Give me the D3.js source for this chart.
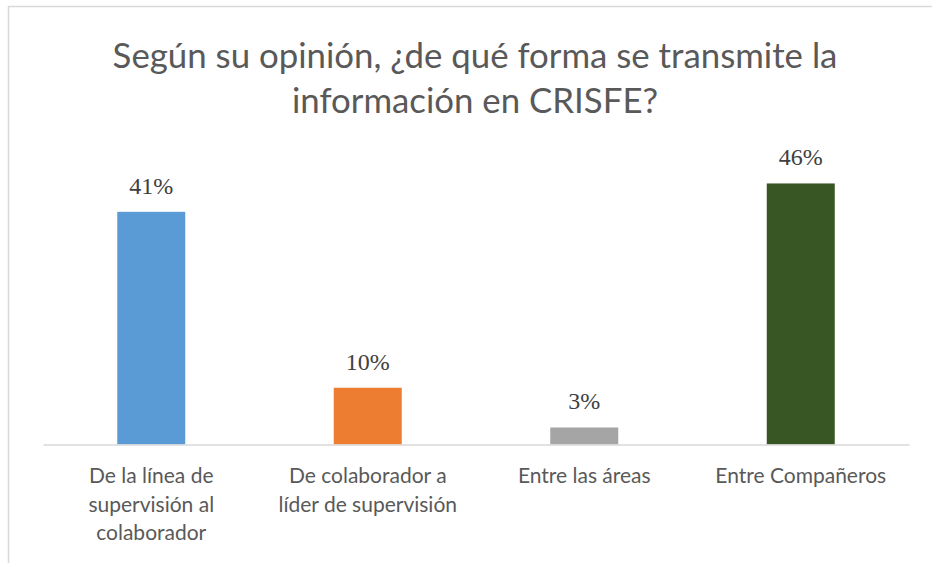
<!DOCTYPE html>
<html>
<head>
<meta charset="utf-8">
<script src="https://cdn.jsdelivr.net/npm/d3@7"></script>
<style>
html,body{margin:0;padding:0;background:#fff;}
svg{display:block;}
</style>
</head>
<body>
<svg id="chart" width="932" height="563"></svg>
<script>
const titleLines = ["Según su opinión, ¿de qué forma se transmite la", "información en CRISFE?"];
const categories = [
  ["De la línea de", "supervisión al", "colaborador"],
  ["De colaborador a", "líder de supervisión"],
  ["Entre las áreas"],
  ["Entre Compañeros"]
];
const values = [0.41, 0.10, 0.03, 0.46];
const valueLabels = ["41%", "10%", "3%", "46%"];
const colors = ["#5b9bd5", "#ed7d31", "#a5a5a5", "#375623"];

const svg = d3.select("#chart");
const W = 932, H = 563;
svg.append("rect").attr("width", W).attr("height", H).attr("fill", "#fff");
// chart frame
svg.append("rect").attr("x", 8.5).attr("y", 6.5).attr("width", W + 10).attr("height", H + 10)
  .attr("fill", "none").attr("stroke", "#d9d9d9").attr("stroke-width", 1.5);

const margin = {left: 43, right: 23, top: 160, bottom: 119};
const x = d3.scaleBand().domain(d3.range(categories.length))
  .range([margin.left, W - margin.right]).paddingInner(0.686).paddingOuter(0.343);
const y = d3.scaleLinear().domain([0, 0.5]).range([444.5, 444.5 - 0.5 * 567.5]);

// title
const title = svg.append("text").attr("text-anchor", "middle")
  .attr("font-family", "Lato, 'Open Sans', sans-serif").attr("font-size", 34.8).attr("fill", "#595959");
titleLines.forEach((t, i) => {
  title.append("tspan").attr("x", 475).attr("y", 68 + i * 45).text(t);
});

// bars
svg.selectAll("rect.bar").data(values).join("rect").attr("class", "bar")
  .attr("x", (d, i) => x(i)).attr("width", x.bandwidth())
  .attr("y", d => y(d)).attr("height", d => y(0) - y(d))
  .attr("fill", (d, i) => colors[i]);

// axis
const xAxis = d3.axisBottom(x).tickSize(0).tickFormat("");
const ax = svg.append("g").attr("transform", `translate(0,${y(0)})`).call(xAxis);
ax.select(".domain").attr("stroke", "#d9d9d9").attr("stroke-width", 1.5);

// value labels
svg.selectAll("text.val").data(values).join("text").attr("class", "val")
  .attr("x", (d, i) => x(i) + x.bandwidth() / 2).attr("y", d => y(d) - 18)
  .attr("text-anchor", "middle").attr("font-family", "'Liberation Serif', 'Times New Roman', serif")
  .attr("font-size", 24).attr("fill", "#404040").text((d, i) => valueLabels[i]);

// category labels
categories.forEach((lines, i) => {
  const t = svg.append("text").attr("text-anchor", "middle")
    .attr("font-family", "Lato, 'Open Sans', sans-serif").attr("font-size", 21).attr("fill", "#595959");
  lines.forEach((l, j) => {
    t.append("tspan").attr("x", x(i) + x.bandwidth() / 2).attr("y", 483 + j * 28.5).text(l);
  });
});
</script>
</body>
</html>
